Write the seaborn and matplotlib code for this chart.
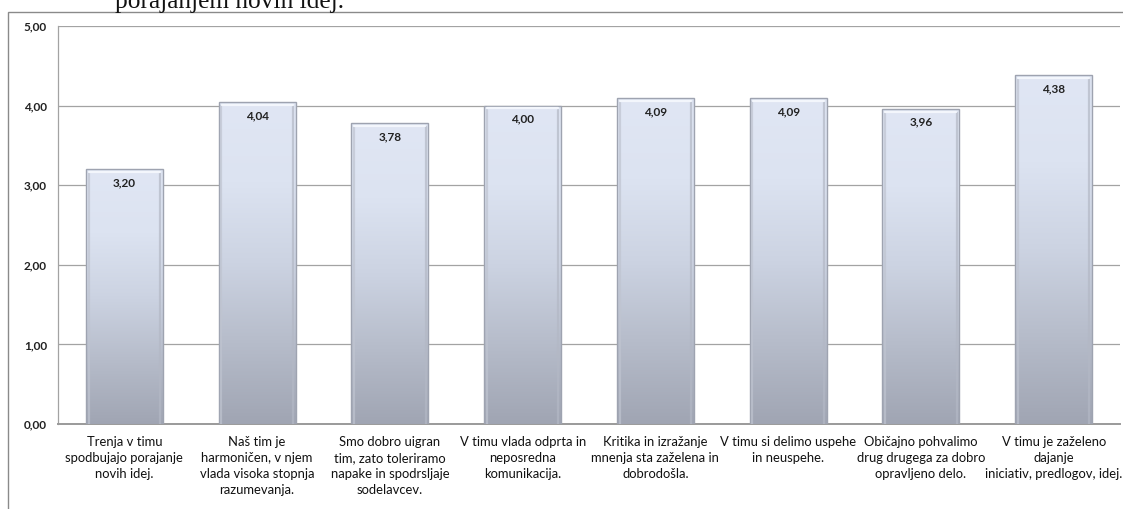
import numpy as np
import pandas as pd
import matplotlib
matplotlib.use("Agg")
import matplotlib.pyplot as plt
import seaborn as sns
from matplotlib.patches import Rectangle
from matplotlib.colors import LinearSegmentedColormap

categories = [
    "Trenja v timu\nspodbujajo porajanje\nnovih idej.",
    "Naš tim je\nharmoničen, v njem\nvlada visoka stopnja\nrazumevanja.",
    "Smo dobro uigran\ntim, zato toleriramo\nnapake in spodrsljaje\nsodelavcev.",
    "V timu vlada odprta in\nneposredna\nkomunikacija.",
    "Kritika in izražanje\nmnenja sta zaželena in\ndobrodošla.",
    "V timu si delimo uspehe\nin neuspehe.",
    "Običajno pohvalimo\ndrug drugega za dobro\nopravljeno delo.",
    "V timu je zaželeno\ndajanje\niniciativ, predlogov, idej.",
]
values = [3.20, 4.04, 3.78, 4.00, 4.09, 4.09, 3.96, 4.38]
y_ticks = [0, 1, 2, 3, 4, 5]

df = pd.DataFrame({"trditev": categories, "ocena": values})

sns.set_theme(style="white")
plt.rcParams["font.family"] = ["Lato", "DejaVu Sans"]

fig = plt.figure(figsize=(11.23, 5.09), dpi=100)
ax = fig.add_axes([58 / 1123, 1 - 424 / 509, (1120 - 58) / 1123, (424 - 26) / 509])

sns.barplot(data=df, x="trditev", y="ocena", ax=ax, width=0.58,
            color="#c9d0e0", edgecolor="none", zorder=3)

ax.set_ylim(0, 5)
ax.set_xlim(-0.5, len(values) - 0.5)
ax.set_yticks(y_ticks)
ax.set_yticklabels([f"{t:.2f}".replace(".", ",") for t in y_ticks],
                   fontsize=8.5, fontweight="bold", color="#222222")
ax.tick_params(axis="y", length=0, pad=8)
ax.tick_params(axis="x", length=0, pad=9)
for lbl in ax.get_xticklabels():
    lbl.set_fontsize(9.35)
    lbl.set_color("#111111")
    lbl.set_linespacing(1.4)
ax.set_xlabel("")
ax.set_ylabel("")
ax.grid(axis="y", color="#a3a3a3", linewidth=0.9, zorder=0)
ax.set_axisbelow(True)
for side in ["top", "right"]:
    ax.spines[side].set_visible(False)
ax.spines["left"].set_color("#a3a3a3")
ax.spines["left"].set_linewidth(0.9)
ax.spines["bottom"].set_color("#9a9a9a")
ax.spines["bottom"].set_linewidth(1.4)

# vertical gradient fill for each bar: pale blue at the top, grey-blue at the base
cmap = LinearSegmentedColormap.from_list(
    "bar", ["#a0a5b3", "#b6bcca", "#ccd3e2", "#dce3f1", "#e0e6f4"])
grad = np.linspace(0, 1, 256).reshape(-1, 1)
for bar, v in zip(ax.patches, values):
    x0, w = bar.get_x(), bar.get_width()
    im = ax.imshow(grad, extent=[x0, x0 + w, 0, v], origin="lower",
                   cmap=cmap, aspect="auto", zorder=3.5)
    im.set_clip_path(bar)
    # bevelled edges: darker sides, light top rim
    ax.add_patch(Rectangle((x0, 0), w, v, fill=False, edgecolor="#9ea3b0",
                           linewidth=1.0, zorder=4))
    ax.plot([x0 + w * 0.035, x0 + w * 0.035], [0, v - 0.05],
            color="#bfc4d0", linewidth=1.6, alpha=0.7, zorder=4.1)
    ax.plot([x0 + w * 0.965, x0 + w * 0.965], [0, v - 0.05],
            color="#b3b8c5", linewidth=1.6, alpha=0.7, zorder=4.1)
    ax.plot([x0 + w * 0.04, x0 + w * 0.96], [v - 0.035, v - 0.035],
            color="#f3f6fc", linewidth=1.6, zorder=4.2)
    ax.text(x0 + w / 2, v - 0.17, f"{v:.2f}".replace(".", ","),
            ha="center", va="center", fontsize=8.5, fontweight="bold",
            color="#222222", zorder=5)

# outer chart frame
fig.patches.append(Rectangle((8 / 1123, -0.01), 1.2, 1 - 12 / 509 + 0.01,
                             transform=fig.transFigure, fill=False,
                             edgecolor="#8a8a8a", linewidth=1.0))

# heading line continuing from the page above
fig.text(115 / 1123, 1 - 8 / 509, "porajanjem novih idej.",
         fontsize=18.3, family="Liberation Serif", color="#111111",
         ha="left", va="baseline")

fig.savefig("out.png", dpi=100)
